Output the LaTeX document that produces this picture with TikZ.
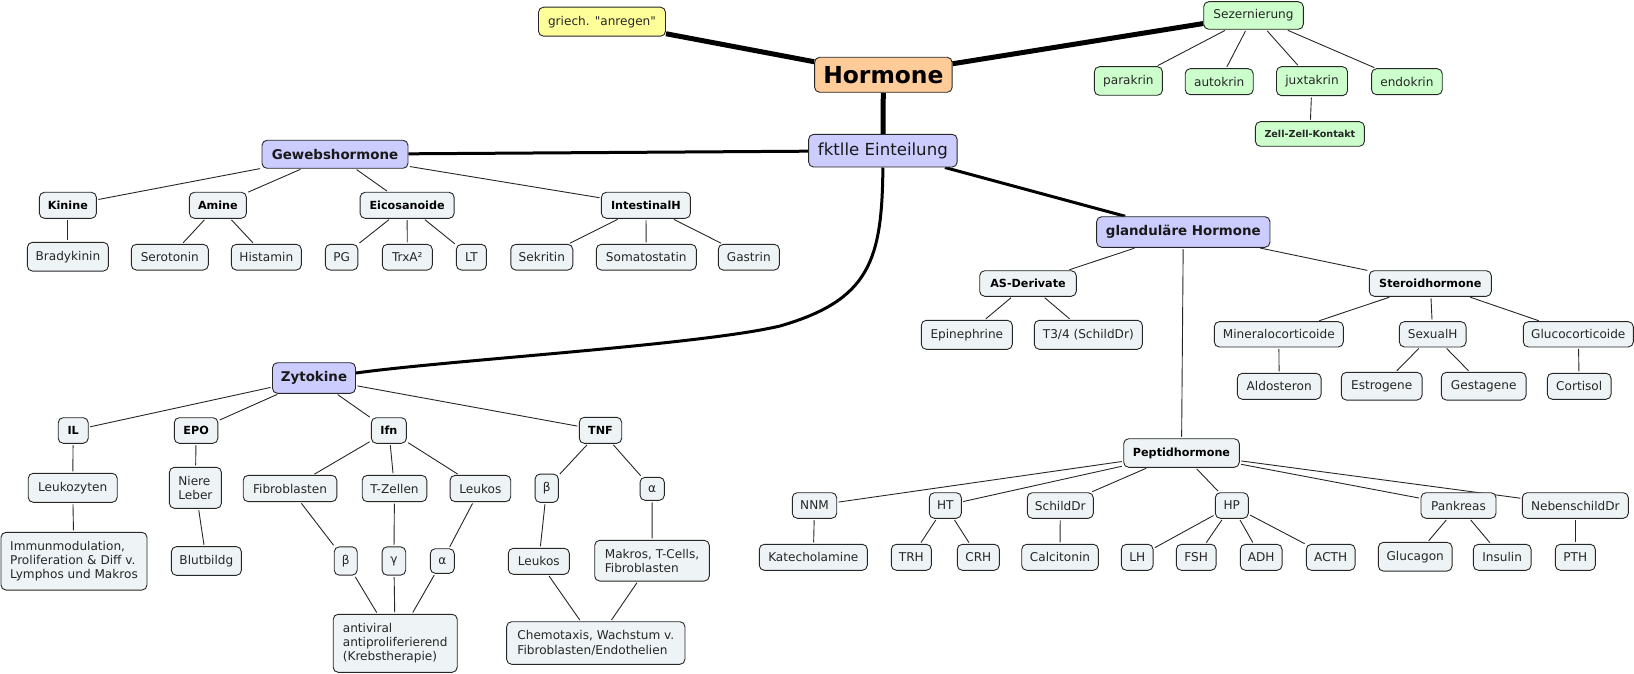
\documentclass[tikz,border=0pt]{standalone}
\usepackage{fontspec}
\setmainfont{DejaVu Sans}[Ligatures=TeXOff]
\usetikzlibrary{backgrounds}
\definecolor{peach}{RGB}{255,204,153}
\definecolor{lav}{RGB}{204,204,255}
\definecolor{grn}{RGB}{204,255,204}
\definecolor{yel}{RGB}{255,255,153}
\definecolor{leaf}{RGB}{238,244,245}
\tikzset{
  box/.style={draw=black!85, line width=0.9pt, rounded corners=5pt, fill=leaf, inner sep=0pt,
    font=\fontsize{12.1}{14.3}\selectfont, text=black!85, align=center},
  bx/.style={box, font=\fontsize{11.2}{14.3}\selectfont\bfseries, text=black},
  top/.style={box, font=\fontsize{13.4}{15}\selectfont\bfseries, text=black!90, fill=lav},
  sz/.style 2 args={minimum width=#1pt, minimum height=#2pt},
  ln/.style={draw=black!85, line width=0.9pt, shorten <=1.5pt, shorten >=1.5pt},
  thk/.style={draw=black, line width=5pt},
  med/.style={draw=black, line width=3pt}
}
\begin{document}
\begin{tikzpicture}[x=1pt,y=-1pt]
\useasboundingbox (0,0) rectangle (1634,674);
% top
\node[box, fill=yel, sz={127}{29}] (gr) at (602,21.7) {griech. "anregen"};
\node[box, fill=peach, font=\fontsize{23.4}{26}\selectfont\bfseries, text=black, sz={137.5}{35}] (hor) at (883.4,74.8) {Hormone};
\node[box, fill=lav, font=\fontsize{16.6}{19}\selectfont, text=black!90, sz={148.5}{32.7}] (fkt) at (882.9,150.7) {fktlle Einteilung};
\node[box, fill=grn, sz={99.6}{27.6}] (sez) at (1253.5,15.5) {Sezernierung};
\node[box, fill=grn, sz={68}{28.6}] (para) at (1128.4,81) {parakrin};
\node[box, fill=grn, sz={68}{26}] (auto) at (1219.2,81.7) {autokrin};
\node[box, fill=grn, sz={71}{29}] (juxt) at (1312,81.2) {juxtakrin};
\node[box, fill=grn, sz={70.7}{26}] (endo) at (1406.9,81.7) {endokrin};
\node[box, fill=grn, font=\fontsize{9.6}{12}\selectfont\bfseries, sz={109}{24.6}] (zell) at (1309.9,134) {Zell-Zell-Kontakt};
% level 1
\node[top, sz={146}{28}] (gew) at (335,154.3) {Gewebshormone};
\node[top, sz={83}{30.6}] (zyt) at (314,378) {Zytokine};
\node[top, sz={173.3}{30.6}] (gla) at (1183.3,232) {glanduläre Hormone};
% Gewebshormone
\node[bx, sz={57}{26}] (kin) at (67.9,205.3) {Kinine};
\node[bx, sz={57}{26}] (ami) at (217.9,205.3) {Amine};
\node[bx, sz={94}{26}] (eic) at (407.1,205.3) {Eicosanoide};
\node[bx, sz={89}{26}] (int) at (645.9,205.3) {IntestinalH};
\node[box, sz={81}{28.7}] (bra) at (67.9,256.7) {Bradykinin};
\node[box, sz={77}{25.7}] (ser) at (169.8,257.2) {Serotonin};
\node[box, sz={70}{25.7}] (his) at (266.3,257.2) {Histamin};
\node[box, sz={32.5}{25.7}] (pg) at (341.6,257.2) {PG};
\node[box, sz={50}{25.7}] (trx) at (407.3,257.2) {TrxA²};
\node[box, sz={30}{25.7}] (lt) at (471.4,257.2) {LT};
\node[box, sz={62}{25.7}] (sek) at (541.8,257.2) {Sekritin};
\node[box, sz={100}{25.7}] (som) at (646.3,257.2) {Somatostatin};
\node[box, sz={61}{25.7}] (gas) at (748.8,257.2) {Gastrin};
% Zytokine
\node[bx, sz={30}{25.6}] (il) at (73.2,430.5) {IL};
\node[bx, sz={43.6}{25.6}] (epo) at (196.1,430.5) {EPO};
\node[bx, sz={35}{25.6}] (ifn) at (388.9,430.5) {Ifn};
\node[bx, sz={42.4}{26}] (tnf) at (600.5,430.3) {TNF};
\node[box, sz={89}{29}] (lkz) at (72.7,487.8) {Leukozyten};
\node[box, align=left, sz={52}{41}] (nie) at (195.4,487.8) {Niere\\Leber};
\node[box, sz={93.6}{26.3}] (fib) at (290,488.5) {Fibroblasten};
\node[box, sz={64.6}{26.3}] (tze) at (394.5,488.5) {T-Zellen};
\node[box, sz={60.7}{26.3}] (lka) at (480.4,488.5) {Leukos};
\node[box, align=left, sz={146}{57.7}] (imm) at (74,561.2) {Immunmodulation,\\Proliferation \& Diff v.\\Lymphos und Makros};
\node[box, sz={70}{28.7}] (blu) at (206.4,561) {Blutbildg};
\node[box, sz={23}{28.3}] (be1) at (345.7,561) {β};
\node[box, sz={23.6}{28.3}] (ga1) at (393.9,561) {γ};
\node[box, sz={24}{24.6}] (al1) at (442.3,561) {α};
\node[box, align=left, sz={124}{58}] (ant) at (395.2,643.3) {antiviral\\antiproliferierend\\(Krebstherapie)};
\node[box, sz={23.3}{28.3}] (be2) at (546.7,488.2) {β};
\node[box, sz={24.3}{23}] (al2) at (652.2,488.8) {α};
\node[box, sz={61}{26}] (lkb) at (538.8,561.3) {Leukos};
\node[box, align=left, sz={114.6}{40.7}] (mak) at (652,560.7) {Makros, T-Cells,\\Fibroblasten};
\node[box, align=left, sz={178.3}{42.6}] (che) at (595.8,643) {Chemotaxis, Wachstum v.\\Fibroblasten/Endothelien};
% glandulaere
\node[bx, sz={96.6}{25.6}] (asd) at (1028,283.5) {AS-Derivate};
\node[box, sz={91}{29}] (epi) at (966.8,334.8) {Epinephrine};
\node[box, sz={108}{29}] (t34) at (1088.3,334.8) {T3/4 (SchildDr)};
\node[bx, sz={122}{25.6}] (ste) at (1430.3,283.5) {Steroidhormone};
\node[box, sz={129}{25.3}] (min) at (1278.8,334.3) {Mineralocorticoide};
\node[box, sz={66.7}{25.3}] (sex) at (1432.7,334.3) {SexualH};
\node[box, sz={110}{25.3}] (glu) at (1578.3,334.3) {Glucocorticoide};
\node[box, sz={83.7}{26}] (ald) at (1279.2,386.3) {Aldosteron};
\node[box, sz={80.7}{27.7}] (est) at (1381.7,386.2) {Estrogene};
\node[box, sz={84.7}{27.7}] (ges) at (1483.7,386.2) {Gestagene};
\node[box, sz={63.7}{26}] (cor) at (1579.2,386.3) {Cortisol};
\node[bx, sz={115.6}{28.6}] (pep) at (1181.5,453) {Peptidhormone};
\node[box, sz={44.4}{25.6}] (nnm) at (814.5,505.5) {NNM};
\node[box, sz={32}{25.6}] (ht) at (945.3,505.5) {HT};
\node[box, sz={66}{25.6}] (sch) at (1060.3,505.5) {SchildDr};
\node[box, sz={33}{25.6}] (hp) at (1231.8,505.5) {HP};
\node[box, sz={75}{25.6}] (pan) at (1458.5,505.5) {Pankreas};
\node[box, sz={106}{25.6}] (neb) at (1575.3,505.5) {NebenschildDr};
\node[box, sz={108}{26}] (kat) at (813.3,557.3) {Katecholamine};
\node[box, sz={40}{26}] (trh) at (911.3,557.3) {TRH};
\node[box, sz={42}{26}] (crh) at (978.3,557.3) {CRH};
\node[box, sz={76.6}{26}] (cal) at (1060,557.3) {Calcitonin};
\node[box, sz={31.7}{26}] (lh) at (1137.2,557.3) {LH};
\node[box, sz={39.7}{26}] (fsh) at (1196.2,557.3) {FSH};
\node[box, sz={41.7}{26}] (adh) at (1261.2,557.3) {ADH};
\node[box, sz={48.7}{26}] (act) at (1330.7,557.3) {ACTH};
\node[box, sz={73.7}{28.7}] (glc) at (1415.2,556.7) {Glucagon};
\node[box, sz={57.7}{26}] (ins) at (1502.2,557.3) {Insulin};
\node[box, sz={40}{26}] (pth) at (1575.3,557.3) {PTH};
\coordinate (zytin) at ([yshift=5pt]zyt.east);
\begin{pgfonlayer}{background}
\draw[thk] (hor) -- (gr);
\draw[thk] (hor) -- (sez);
\draw[thk] (hor) -- (fkt);
\draw[med] (fkt) -- (gew);
\draw[med] (fkt) -- (gla);
\draw[med] (fkt.south) .. controls (882,260) and (870,300) .. (780,326) .. controls (700,345) and (450,360) .. (zytin);
\foreach \a/\b in {sez/para,sez/auto,sez/juxt,sez/endo,juxt/zell,
  gew/kin,gew/ami,gew/eic,gew/int,kin/bra,ami/ser,ami/his,eic/pg,eic/trx,eic/lt,int/sek,int/som,int/gas,
  zyt/il,zyt/epo,zyt/ifn,zyt/tnf,il/lkz,lkz/imm,epo/nie,nie/blu,ifn/fib,ifn/tze,ifn/lka,fib/be1,tze/ga1,lka/al1,
  be1/ant,ga1/ant,al1/ant,tnf/be2,tnf/al2,be2/lkb,al2/mak,lkb/che,mak/che,
  gla/asd,gla/ste,gla/pep,asd/epi,asd/t34,ste/min,ste/sex,ste/glu,min/ald,sex/est,sex/ges,glu/cor,
  pep/nnm,pep/ht,pep/sch,pep/hp,pep/pan,pep/neb,nnm/kat,ht/trh,ht/crh,sch/cal,hp/lh,hp/fsh,hp/adh,hp/act,
  pan/glc,pan/ins,neb/pth}
  \draw[ln] (\a) -- (\b);
\end{pgfonlayer}
\end{tikzpicture}
\end{document}
